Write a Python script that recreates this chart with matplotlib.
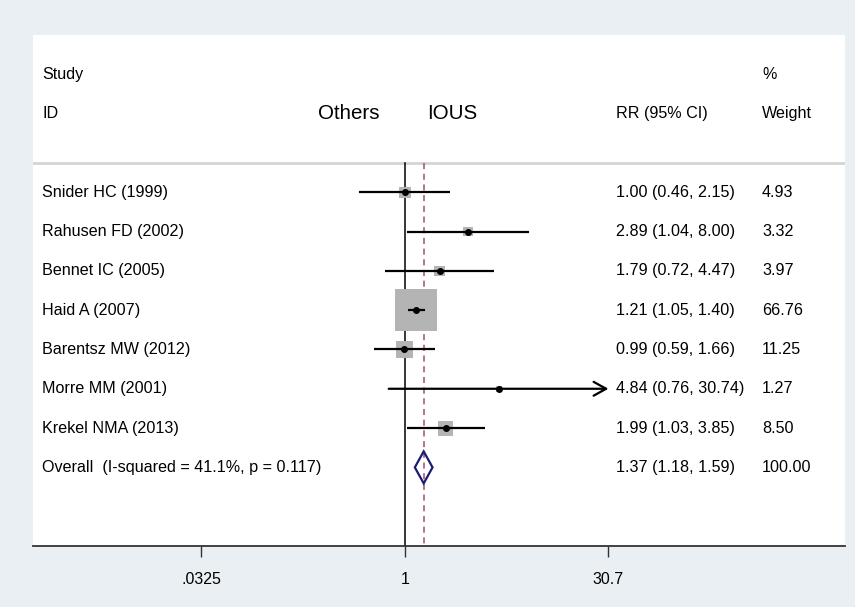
import numpy as np
import matplotlib
matplotlib.use("Agg")
import matplotlib.pyplot as plt
from matplotlib.patches import Rectangle, Polygon
import matplotlib.transforms as mtransforms

plt.rcParams['font.family'] = ['Liberation Sans', 'DejaVu Sans']

# ---- data ----
studies = ["Snider HC (1999)", "Rahusen FD (2002)", "Bennet IC (2005)", "Haid A (2007)",
           "Barentsz MW (2012)", "Morre MM (2001)", "Krekel NMA (2013)"]
rr = [1.00, 2.89, 1.79, 1.21, 0.99, 4.84, 1.99]
lo = [0.46, 1.04, 0.72, 1.05, 0.59, 0.76, 1.03]
hi = [2.15, 8.00, 4.47, 1.40, 1.66, 30.74, 3.85]
weights = [4.93, 3.32, 3.97, 66.76, 11.25, 1.27, 8.50]
overall_label = "Overall  (I-squared = 41.1%, p = 0.117)"
overall_rr, overall_lo, overall_hi, overall_w = 1.37, 1.18, 1.59, 100.00
tick_vals = [0.0325, 1, 30.7]
tick_labels = [".0325", "1", "30.7"]

W, H = 855, 607
fig = plt.figure(figsize=(W / 100, H / 100), dpi=100, facecolor='#e9eff2')
x0, x1, y0, y1 = 33, 845, 35, 546
ax = fig.add_axes([x0 / W, (H - y1) / H, (x1 - x0) / W, (y1 - y0) / H])
ax.set_facecolor('white')

px_per_ln = 59.4
xmin = np.exp((x0 - 405) / px_per_ln)
xmax = np.exp((x1 - 405) / px_per_ln)
ax.set_xscale('log')
ax.set_xlim(xmin, xmax)
ax.set_ylim(9.0, -4.0)

for s in ['top', 'right', 'left']:
    ax.spines[s].set_visible(False)
ax.spines['bottom'].set_color('#333333')
ax.spines['bottom'].set_linewidth(1.3)
ax.set_yticks([])
ax.set_xticks(tick_vals)
ax.set_xticklabels(tick_labels, fontsize=11.5)
ax.xaxis.set_minor_locator(matplotlib.ticker.NullLocator())
ax.tick_params(axis='x', length=8, width=1.0, color='#333333', pad=11)

row_px = (y1 - y0) / 13.0
clip_hi = tick_vals[-1]

# header separator
sep_y = -0.74
ax.axhline(sep_y, color='#d4d4d4', lw=2)

# null line and overall dashed line
ax.plot([1, 1], [sep_y, 9.0], color='black', lw=1.1, zorder=2)
ax.plot([overall_rr, overall_rr], [sep_y, 9.0], color='#a0506e', lw=1.1,
        ls=(0, (4, 3)), zorder=2)

# boxes and CIs
scale = 5.14  # px per sqrt(weight)
for i, (r, l, h, w) in enumerate(zip(rr, lo, hi, weights)):
    side_px = scale * np.sqrt(w)
    lr = np.log(r)
    half_ln = side_px / 2 / px_per_ln
    half_row = side_px / 2 / row_px
    ax.add_patch(Rectangle((np.exp(lr - half_ln), i - half_row),
                           np.exp(lr + half_ln) - np.exp(lr - half_ln), 2 * half_row,
                           facecolor='#b4b4b4', edgecolor='none', zorder=3))
    if h > clip_hi:
        ax.annotate('', xy=(clip_hi, i), xytext=(l, i),
                    arrowprops=dict(arrowstyle='->,head_length=0.9,head_width=0.5',
                                    color='black', lw=1.6, shrinkA=0, shrinkB=0),
                    zorder=4)
    else:
        ax.plot([l, h], [i, i], color='black', lw=1.6, zorder=4, solid_capstyle='butt')
    ax.plot([r], [i], marker='o', color='black', ms=4, zorder=5)

# overall diamond
oy = len(studies)
dh = 16 / row_px
ax.add_patch(Polygon([(overall_lo, oy), (overall_rr, oy - dh), (overall_hi, oy),
                      (overall_rr, oy + dh)], closed=True, facecolor='none',
                     edgecolor='#1c1c70', lw=1.6, zorder=5))

# text columns
trans = mtransforms.blended_transform_factory(ax.transAxes, ax.transData)
fx = lambda px: (px - x0) / (x1 - x0)
fs = 11.6
ax.text(fx(42), -3, "Study", transform=trans, fontsize=fs, va='center', ha='left')
ax.text(fx(42), -2, "ID", transform=trans, fontsize=fs, va='center', ha='left')
ax.text(fx(349), -2, "Others", transform=trans, fontsize=14.8, va='center', ha='center')
ax.text(fx(452), -2, "IOUS", transform=trans, fontsize=14.8, va='center', ha='center')
ax.text(fx(616), -2, "RR (95% CI)", transform=trans, fontsize=fs, va='center', ha='left')
ax.text(fx(762), -3, "%", transform=trans, fontsize=fs, va='center', ha='left')
ax.text(fx(762), -2, "Weight", transform=trans, fontsize=fs, va='center', ha='left')

for i, (s, r, l, h, w) in enumerate(zip(studies, rr, lo, hi, weights)):
    ax.text(fx(42), i, s, transform=trans, fontsize=fs, va='center', ha='left')
    ax.text(fx(616), i, f"{r:.2f} ({l:.2f}, {h:.2f})", transform=trans, fontsize=fs,
            va='center', ha='left')
    ax.text(fx(762), i, f"{w:.2f}", transform=trans, fontsize=fs, va='center', ha='left')

ax.text(fx(42), oy, overall_label, transform=trans, fontsize=fs, va='center', ha='left')
ax.text(fx(616), oy, f"{overall_rr:.2f} ({overall_lo:.2f}, {overall_hi:.2f})",
        transform=trans, fontsize=fs, va='center', ha='left')
ax.text(fx(762), oy, f"{overall_w:.2f}", transform=trans, fontsize=fs, va='center', ha='left')

fig.savefig("out.png", dpi=100, facecolor=fig.get_facecolor())
